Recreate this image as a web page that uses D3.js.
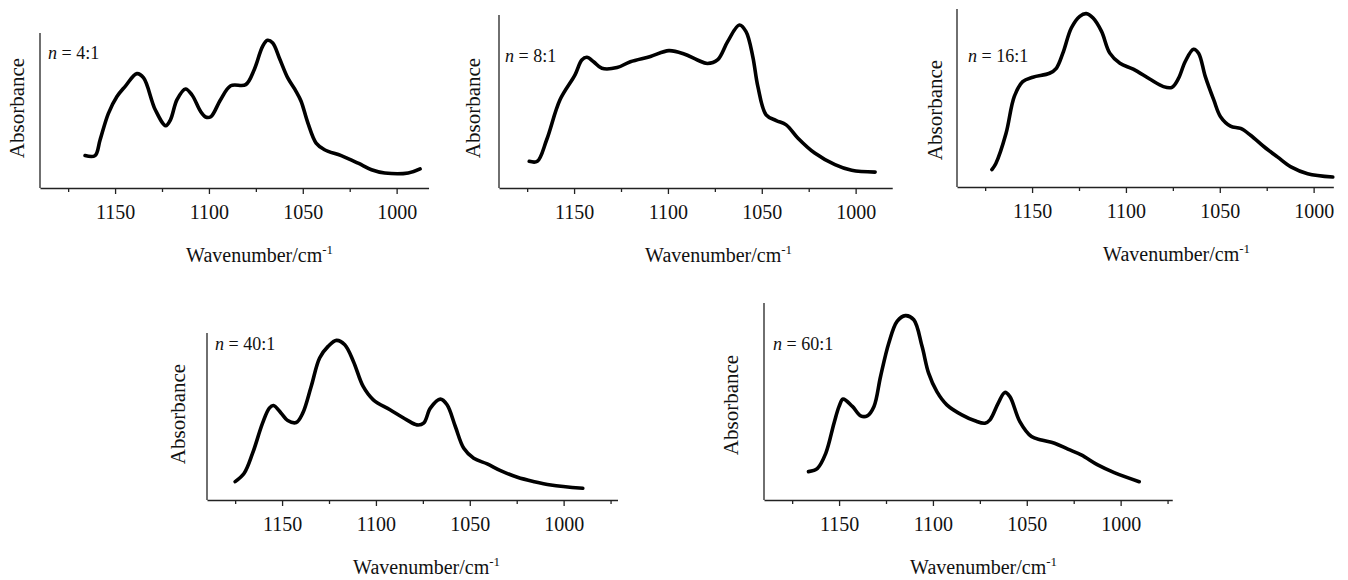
<!DOCTYPE html>
<html>
<head>
<meta charset="utf-8">
<script src="https://cdn.jsdelivr.net/npm/d3@7"></script>
<style>
  body { margin: 0; background: #fff; }
  svg { display: block; font-family: "Liberation Serif", "Times New Roman", serif; }
</style>
</head>
<body>
<script>
// ratio labels for the five spectra
const ratioLabels = ['4:1', '8:1', '16:1', '40:1', '60:1'];
const majorTicks = [1150, 1100, 1050, 1000];
const minorTicks = [1175, 1125, 1075, 1025, 975];

// n = 4:1
const wave4 = [1166, 1160.7, 1158, 1153.6, 1149, 1144.6, 1138.4, 1134.8, 1128.6, 1123, 1120.5, 1117, 1112.5, 1109, 1104.5, 1101.8, 1099, 1093.8, 1088.4, 1080.4, 1076, 1071.4, 1068.8, 1066, 1062.5, 1058, 1053.6, 1050.9, 1047.3, 1042.9, 1038.4, 1029.5, 1020.5, 1013.4, 1006.3, 993.8, 987.5];
const abs4 = [20.9, 20.9, 31, 48, 59, 65.6, 73.8, 71, 50.5, 40.2, 44, 57, 63.9, 60, 49.5, 45.8, 46, 57, 66, 66.7, 76, 91.4, 95.3, 93.5, 83.9, 71, 62.4, 56, 42, 29, 24.7, 20.9, 16, 11.8, 9.7, 9.7, 12.3];

// n = 8:1
const wave8 = [1173.9, 1169.6, 1164.6, 1157.5, 1149.5, 1145.9, 1143.2, 1139.6, 1135.2, 1127.1, 1120, 1109.3, 1099.5, 1091.4, 1084.3, 1079, 1073.6, 1068.2, 1062, 1058.4, 1054.8, 1052.1, 1047.7, 1042.3, 1037, 1030.7, 1021.8, 1011, 1002.1, 989.6];
const abs8 = [15.4, 15.4, 27.9, 51, 65.4, 74, 75.6, 73, 69.2, 69.6, 73, 76, 79.4, 77.5, 74, 72, 74, 84.6, 94.2, 90.4, 76, 58.7, 42.3, 39, 36.5, 28.8, 20.2, 13.5, 10.2, 9.2];

// n = 16:1
const wave16 = [1171.4, 1169.3, 1163.9, 1159.5, 1155, 1149.6, 1140.7, 1137.1, 1133.6, 1129.1, 1124.6, 1121.1, 1117.5, 1113, 1108.6, 1103.2, 1096.1, 1087.1, 1080, 1075.5, 1072, 1068.4, 1064, 1061.3, 1057.7, 1053.2, 1049.6, 1044.3, 1038.9, 1033.6, 1026.4, 1019.3, 1012.1, 1003.2, 989.8];
const abs16 = [9.8, 13.2, 30, 50.8, 59.2, 61.7, 63.9, 66.7, 75.2, 89.3, 95.9, 97.4, 94.9, 87.4, 75.2, 69.5, 66.2, 60.5, 56.4, 56, 61, 70.5, 77.4, 75.2, 62, 48.9, 39.5, 34.2, 32.9, 29.1, 22.6, 16.9, 11.3, 7.5, 5.6];

// n = 40:1
const wave40 = [1175, 1170.2, 1165.7, 1160.4, 1156.8, 1154.6, 1150.5, 1147, 1142.5, 1139, 1134.5, 1130, 1125.5, 1121, 1116.6, 1112, 1106.8, 1101.4, 1092.5, 1083.6, 1078.2, 1074.6, 1071, 1065.7, 1062.1, 1057.7, 1053.2, 1047.9, 1040.7, 1033.6, 1024.6, 1015.7, 1006.8, 989.8];
const abs40 = [11, 16, 28, 46, 55, 56.6, 52, 47.6, 46.4, 52, 68, 85, 92, 95.6, 93, 83, 68, 60, 54, 48, 45, 46, 55, 60.4, 57, 44, 31, 25, 21.6, 17.6, 13.6, 11, 9, 7];

// n = 60:1
const wave60 = [1166.3, 1161.5, 1157.1, 1152.7, 1150, 1147.9, 1142.9, 1138.5, 1135, 1131.4, 1127.9, 1123.5, 1119.1, 1114.7, 1110.2, 1105.8, 1102.3, 1097.9, 1092.6, 1084.6, 1077.6, 1072.3, 1069.6, 1065.2, 1061.7, 1059, 1053.7, 1047.5, 1042.2, 1035.2, 1028.1, 1021, 1012.2, 1003.4, 990.1];
const abs60 = [14.4, 16.1, 23.7, 39, 47.5, 51.2, 47.5, 42.7, 42.7, 47.5, 62.7, 79.7, 90.7, 93.6, 91.5, 78, 64.4, 55, 48.3, 43.2, 40.2, 39, 40.7, 49.2, 54.6, 52.5, 39.8, 32.2, 30.5, 28.8, 25.8, 22.9, 17.8, 13.9, 9.3];

const waves = [wave4, wave8, wave16, wave40, wave60];
const absorbs = [abs4, abs8, abs16, abs40, abs60];

// where each little panel sits on the page
const layout = [
    { left: 40,  top: 33,  base: 188, xEnd: 983,   absX: 24,  absY: 108, nX: 48,  nY: 59 },
    { left: 499, top: 15,  base: 188, xEnd: 980.5, absX: 480, absY: 108, nX: 505, nY: 62 },
    { left: 957, top: 9,   base: 187, xEnd: 989.5, absX: 942, absY: 110, nX: 968, nY: 62 },
    { left: 207, top: 333, base: 500, xEnd: 971.3, absX: 185, absY: 414, nX: 215, nY: 350 },
    { left: 764, top: 303, base: 500, xEnd: 972.5, absX: 738, absY: 405, nX: 773, nY: 350 }
];

const w = 1348;
const h = 580;
const pxPerUnit = 1.877;
const xStart = 1190;

const svg = d3.select('body')
    .append('svg')
    .attr('width', w)
    .attr('height', h);

layout.forEach((p, i) => {
    const data = waves[i].map((wn, j) => ({ wn: wn, a: absorbs[i][j] }));

    const xScale = d3.scaleLinear()
        .domain([xStart, p.xEnd])
        .range([p.left, p.left + (xStart - p.xEnd) * pxPerUnit]);

    const yScale = d3.scaleLinear()
        .domain([0, 100])
        .range([p.base, p.top]);

    const g = svg.append('g');

    // minor ticks first (no labels)
    g.append('g')
        .attr('transform', `translate(0,${p.base})`)
        .call(d3.axisBottom(xScale)
            .tickValues(minorTicks.filter(t => t > p.xEnd))
            .tickSize(4)
            .tickSizeOuter(0)
            .tickFormat(''))
        .call(a => a.select('.domain').remove());

    const xAxisG = g.append('g')
        .attr('transform', `translate(0,${p.base})`)
        .call(d3.axisBottom(xScale)
            .tickValues(majorTicks)
            .tickSize(6)
            .tickSizeOuter(0)
            .tickPadding(11)
            .tickFormat(d3.format('d')));

    g.selectAll('.tick line, .domain')
        .attr('stroke', '#222')
        .attr('stroke-width', 1.3);

    xAxisG.selectAll('text')
        .attr('fill', '#111')
        .style('font-size', '20px')
        .style('font-family', '"Liberation Serif", "Times New Roman", serif');

    // y axis: plain line, no ticks
    g.append('line')
        .attr('x1', p.left).attr('x2', p.left)
        .attr('y1', yScale(100)).attr('y2', yScale(0))
        .attr('stroke', '#222')
        .attr('stroke-width', 1.3);

    const line = d3.line()
        .x(d => xScale(d.wn))
        .y(d => yScale(d.a))
        .curve(d3.curveCatmullRom.alpha(0.5));

    g.append('path')
        .datum(data)
        .attr('d', line)
        .attr('fill', 'none')
        .attr('stroke', '#000')
        .attr('stroke-width', 3.6)
        .attr('stroke-linejoin', 'round')
        .attr('stroke-linecap', 'round');

    // x axis title with superscript
    const xt = g.append('text')
        .attr('x', xScale(1073))
        .attr('y', p.base + 74)
        .attr('text-anchor', 'middle')
        .attr('fill', '#111')
        .style('font-size', '20px');
    xt.append('tspan').text('Wavenumber/cm');
    xt.append('tspan').attr('dy', -8).style('font-size', '13px').text('-1');

    g.append('text')
        .attr('transform', `translate(${p.absX},${p.absY}) rotate(-90)`)
        .attr('text-anchor', 'middle')
        .attr('fill', '#111')
        .style('font-size', '21px')
        .text('Absorbance');

    const nt = g.append('text')
        .attr('x', p.nX)
        .attr('y', p.nY)
        .attr('fill', '#111')
        .style('font-size', '18px');
    nt.append('tspan').style('font-style', 'italic').text('n');
    nt.append('tspan').text(' = ' + ratioLabels[i]);
});
</script>
</body>
</html>
